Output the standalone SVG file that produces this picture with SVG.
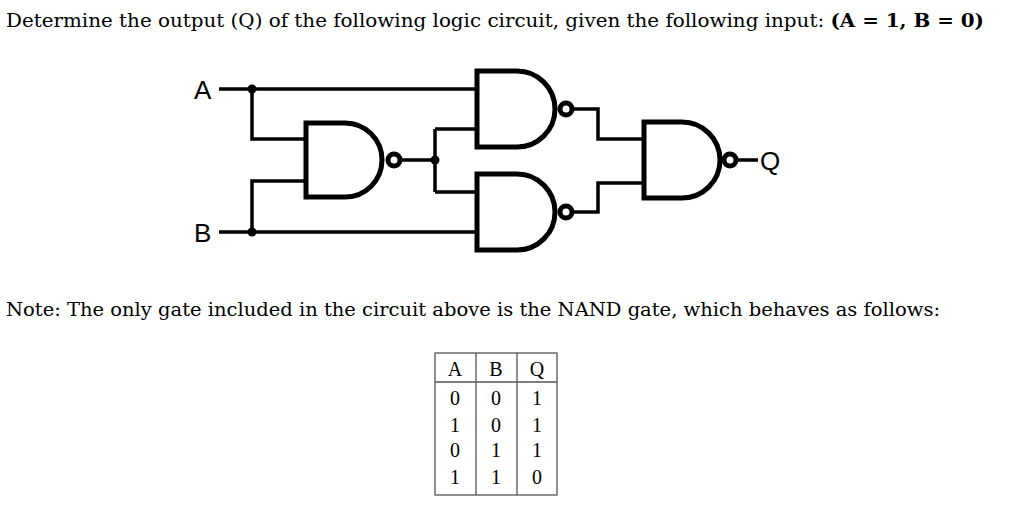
<svg xmlns="http://www.w3.org/2000/svg" width="1024" height="508" viewBox="0 0 1024 508">
<style>
.t{font-family:"DejaVu Serif","Liberation Serif",serif;font-size:18px;fill:#000}
.s{font-family:"Liberation Sans",Arial,sans-serif;font-size:26px;fill:#000}
.g{fill:#fff;stroke:#000;stroke-width:5}
.w{fill:none;stroke:#000;stroke-width:3.5}
.tb{fill:none;stroke:#555;stroke-width:1.3}
.c{font-family:"Liberation Serif",serif;font-size:20px;text-anchor:middle}
</style>
<rect width="1024" height="508" fill="#fff"/>
<text class="t" x="6" y="27" textLength="978" lengthAdjust="spacingAndGlyphs">Determine the output (Q) of the following logic circuit, given the following input: <tspan font-weight="bold">(A = 1, B = 0)</tspan></text>
<g id="labels">
<text class="s" x="194" y="99">A</text>
<text class="s" x="194" y="242">B</text>
<text class="s" x="760" y="170">Q</text>
</g>
<g id="connectors">
<path class="w" d="M219 89H478 M252 89V139H305 M252 232V181H305 M219 232H478 M400 160H436 M435 129V192 M435 129H478 M435 192H478 M572 109H598V139H644 M572 212H598V183H644 M736 160H758"/>
<circle cx="252" cy="89" r="4.5"/><circle cx="252" cy="232" r="4.5"/><circle cx="435" cy="160" r="4.5"/>
</g>
<g id="gate1"><path class="g" d="M306 123H345A37 37 0 0 1 345 197H306Z"/><circle class="g" cx="394" cy="160" r="6" stroke-width="3.5"/></g>
<g id="gate2"><path class="g" d="M477 71H517A38 38 0 0 1 517 147H477Z"/><circle class="g" cx="566" cy="109" r="6" stroke-width="3.5"/></g>
<g id="gate3"><path class="g" d="M477 174H517A38 38 0 0 1 517 250H477Z"/><circle class="g" cx="566" cy="212" r="6" stroke-width="3.5"/></g>
<g id="gate4"><path class="g" d="M644 122H682A38 38 0 0 1 682 198H644Z"/><circle class="g" cx="730" cy="160" r="6" stroke-width="3.5"/></g>
<text class="t" x="6" y="316" textLength="934" lengthAdjust="spacingAndGlyphs">Note: The only gate included in the circuit above is the NAND gate, which behaves as follows:</text>
<g id="table">
<rect class="tb" x="435" y="353" width="122" height="142"/>
<path class="tb" d="M476 353V495 M517 353V495 M435 382H557"/>
<g class="c">
<text x="455" y="376">A</text><text x="496" y="376">B</text><text x="537" y="376">Q</text>
<text x="455" y="405">0</text><text x="496" y="405">0</text><text x="537" y="405">1</text>
<text x="455" y="432">1</text><text x="496" y="432">0</text><text x="537" y="432">1</text>
<text x="455" y="457">0</text><text x="496" y="457">1</text><text x="537" y="457">1</text>
<text x="455" y="484">1</text><text x="496" y="484">1</text><text x="537" y="484">0</text>
</g>
</g>
</svg>
